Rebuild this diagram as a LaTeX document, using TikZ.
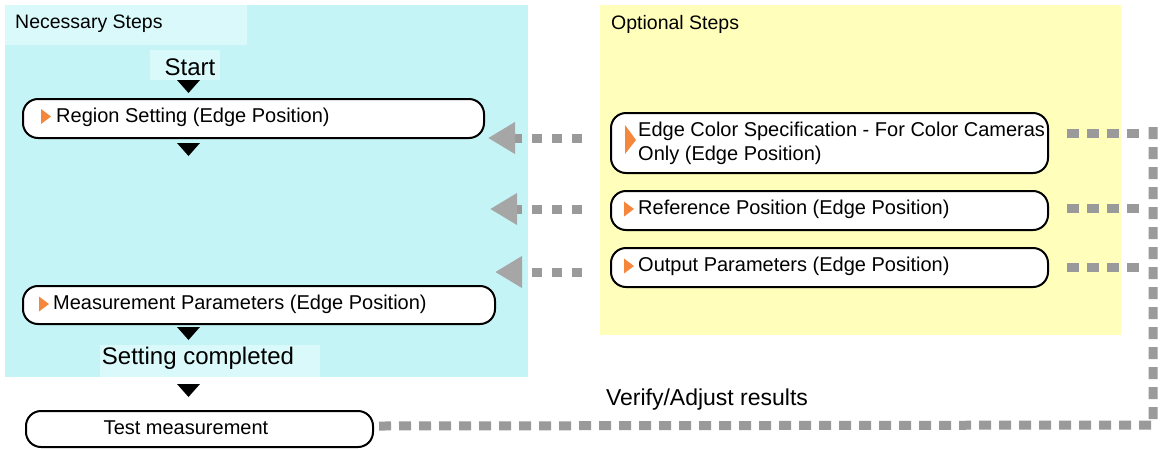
\documentclass[tikz,border=0pt]{standalone}
\usepackage{fontspec}
\setmainfont{Liberation Sans}
\usetikzlibrary{calc,arrows.meta}
\definecolor{cyanbg}{HTML}{C5F4F6}
\definecolor{cyanlt}{HTML}{DAF9FA}
\definecolor{yellowbg}{HTML}{FFFFBB}
\definecolor{dashgray}{HTML}{9A9A9A}
\definecolor{headgray}{HTML}{A6A6A6}
\definecolor{orangetri}{HTML}{F4873C}
\begin{document}
\begin{tikzpicture}[x=1pt,y=-1pt,
  stepbox/.style={draw=black, line width=2pt, rounded corners=15pt, fill=white,
    inner sep=0pt, anchor=north west},
  boxtext/.style={inner sep=0pt, anchor=west, font=\fontsize{20}{24}\selectfont},
  bigtext/.style={inner sep=0pt, font=\fontsize{24}{28}\selectfont},
  headtext/.style={inner sep=0pt, anchor=west, font=\fontsize{19.5}{24}\selectfont},
  leftarrow/.style={draw=dashgray, line width=9pt, dash pattern=on 10pt off 10pt,
    -{Triangle[length=27pt,width=30pt,color=headgray]}},
  rightdash/.style={draw=dashgray, line width=9pt, dash pattern=on 12pt off 8pt},
  orangemark/.style={fill=orangetri},
  flowtri/.style={fill=black}]
\useasboundingbox (0,0) rectangle (1160,448);
\fill[white] (0,0) rectangle (1160,448);
% backgrounds
\fill[cyanbg] (5,5) rectangle (528,377);
\fill[yellowbg] (600,5) rectangle (1121,335);
\fill[cyanlt] (5,5) rectangle (247,45);
\fill[cyanlt] (150,50) rectangle (220,80);
\fill[cyanlt] (100,345) rectangle (320,377);
% headers
\node[headtext] (nec) at (15,24) {Necessary Steps};
\node[headtext] (opt) at (611,24) {Optional Steps};
\node[bigtext] (start) at (190,67) {Start};
% flow triangles
\fill[flowtri] (177,80) -- (200,80) -- (188.5,93) -- cycle;
\fill[flowtri] (177,143) -- (200,143) -- (188.5,156) -- cycle;
\fill[flowtri] (177,327) -- (200,327) -- (188.5,340) -- cycle;
\fill[flowtri] (177,384) -- (200,384) -- (188.5,397) -- cycle;
% necessary boxes
\node[stepbox, minimum width=461pt, minimum height=39pt] (reg) at (22,98) {};
\fill[orangemark] (41,109) -- (51,116.5) -- (41,124) -- cycle;
\node[boxtext] (regt) at (56,117.5) {Region Setting (Edge Position)};
\node[stepbox, minimum width=472pt, minimum height=38pt] (meas) at (22,285) {};
\fill[orangemark] (39,296.5) -- (49,304) -- (39,311.5) -- cycle;
\node[boxtext] (meast) at (53,304.5) {Measurement Parameters (Edge Position)};
\node[bigtext] (done) at (198,358) {Setting completed};
\node[stepbox, minimum width=347pt, minimum height=36pt] (test) at (25,410) {};
\node[boxtext, anchor=center] (testt) at (186,427.5) {Test measurement};
% optional boxes
\node[stepbox, minimum width=437pt, minimum height=60pt] (ec) at (610,112) {};
\fill[orangemark] (625,125) -- (636,140) -- (625,154) -- cycle;
\node[boxtext] (ect1) at (638,131) {Edge Color Specification - For Color Cameras};
\node[boxtext] (ect2) at (638,155) {Only (Edge Position)};
\node[stepbox, minimum width=437pt, minimum height=39pt] (ref) at (610,190) {};
\fill[orangemark] (624,201.5) -- (634,209) -- (624,216.5) -- cycle;
\node[boxtext] (reft) at (638,209) {Reference Position (Edge Position)};
\node[stepbox, minimum width=437pt, minimum height=39pt] (out) at (610,247) {};
\fill[orangemark] (624,258.5) -- (634,266) -- (624,273.5) -- cycle;
\node[boxtext] (outt) at (638,266.5) {Output Parameters (Edge Position)};
% left arrows
\coordinate (tipA) at (488,138);
\coordinate (tipB) at (490,209);
\coordinate (tipC) at (495,272);
\draw[leftarrow] ($(ec.west|-tipA)+(-28,0)$) -- (tipA);
\draw[leftarrow] ($(ref.west|-tipB)+(-28,0)$) -- (tipB);
\draw[leftarrow] ($(out.west|-tipC)+(-28,0)$) -- (tipC);
% feedback path
\coordinate (vtop) at (1153,127);
\coordinate (vbot) at (1153,425);
\draw[rightdash] ($(ec.east)+(18,-10)$) -- ($(vtop|-ec.east)+(-13,-10)$);
\draw[rightdash] ($(ref.east)+(18,-2)$) -- ($(vtop|-ref.east)+(-13,-2)$);
\draw[rightdash] ($(out.east)+(18,0)$) -- ($(vtop|-out.east)+(-13,0)$);
\draw[rightdash] ($(test.east)+(5,-3)$) -- (vbot) -- (vtop);
\node[bigtext, font=\fontsize{23}{27}\selectfont] (verify) at (707,400) {Verify/Adjust results};
\end{tikzpicture}
\end{document}
